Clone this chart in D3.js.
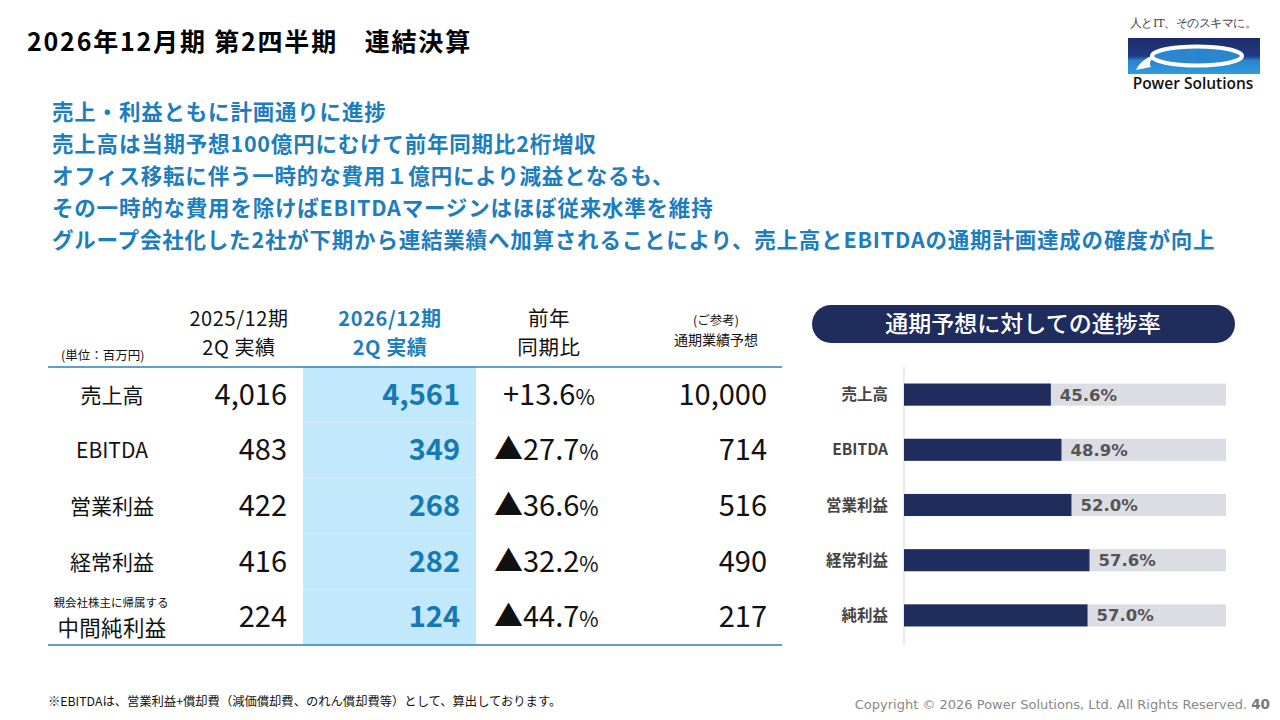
<!DOCTYPE html>
<html><head><meta charset="utf-8">
<script src="https://cdn.jsdelivr.net/npm/d3@7/dist/d3.min.js"></script>
<style>
html,body{margin:0;padding:0;background:#fff;}
svg{display:block;font-family:"Noto Sans CJK JP","Noto Sans",sans-serif;}
</style></head><body>
<svg id="c" width="1280" height="720"></svg>
<script>
// ---- data ----
const title = "2026年12月期 第2四半期　連結決算";
const bullets = [
  "売上・利益ともに計画通りに進捗",
  "売上高は当期予想100億円にむけて前年同期比2桁増収",
  "オフィス移転に伴う一時的な費用１億円により減益となるも、",
  "その一時的な費用を除けばEBITDAマージンはほぼ従来水準を維持",
  "グループ会社化した2社が下期から連結業績へ加算されることにより、売上高とEBITDAの通期計画達成の確度が向上"
];
const columnHeaders = [["2025/12期","2Q 実績"],["2026/12期","2Q 実績"],["前年","同期比"],["(ご参考)","通期業績予想"]];
const unitLabel = "(単位：百万円)";
const rowLabels = ["売上高","EBITDA","営業利益","経常利益","中間純利益"];
const rowNotes = ["","","","","親会社株主に帰属する"];
const prevValues = ["4,016","483","422","416","224"];
const currValues = ["4,561","349","268","282","124"];
const yoyValues = ["+13.6","▲27.7","▲36.6","▲32.2","▲44.7"];
const forecastValues = ["10,000","714","516","490","217"];
const chartTitle = "通期予想に対しての進捗率";
const barLabels = ["売上高","EBITDA","営業利益","経常利益","純利益"];
const progress = [45.6, 48.9, 52.0, 57.6, 57.0];
const footnote = "※EBITDAは、営業利益+償却費（減価償却費、のれん償却費等）として、算出しております。";
const copyright = "Copyright © 2026 Power Solutions, Ltd. All Rights Reserved.";
const pageNo = "40";

const svg = d3.select("#c");

// title
svg.append("text").attr("x",27).attr("y",51).attr("font-size",25).attr("font-weight",700)
  .attr("letter-spacing",1.8).attr("fill","#000").text(title);

// logo
const logo = svg.append("g");
logo.append("text").attr("x",1193).attr("y",27).attr("text-anchor","middle")
  .style("font-family","'DejaVu Serif','Liberation Serif',serif").attr("font-size",11.5).attr("fill","#444")
  .attr("letter-spacing",-0.5).text("人とIT、そのスキマに。");
const defs = svg.append("defs");
const lg = defs.append("linearGradient").attr("id","lg").attr("x1",0).attr("y1",0).attr("x2",0).attr("y2",1);
lg.append("stop").attr("offset","0%").attr("stop-color","#1d2c6a");
lg.append("stop").attr("offset","50%").attr("stop-color","#1f3b84");
lg.append("stop").attr("offset","62%").attr("stop-color","#2a83cc");
lg.append("stop").attr("offset","100%").attr("stop-color","#2f9ce0");
logo.append("rect").attr("x",1128).attr("y",38).attr("width",132).attr("height",36).attr("fill","url(#lg)");
logo.append("path").attr("d","M1136,70 C1140,61 1149,56 1160,53 C1151,58 1148,63 1151,67 Z").attr("fill","#fff");
logo.append("ellipse").attr("cx",1197).attr("cy",56).attr("rx",45).attr("ry",9.5).attr("fill","#2a86cf")
  .attr("stroke","#fff").attr("stroke-width",4);
logo.append("text").attr("x",1193).attr("y",89).attr("text-anchor","middle")
  .style("font-family","'Open Sans','Noto Sans',sans-serif").attr("font-size",15.5).attr("font-weight",600)
  .attr("fill","#111").text("Power Solutions");

// bullets
const bulletY = d3.scaleLinear().domain([0,4]).range([120,248]);
svg.selectAll("text.bullet").data(bullets).join("text").attr("class","bullet")
  .attr("x",52).attr("y",(d,i)=>bulletY(i)).attr("font-size",21.5).attr("font-weight",700)
  .attr("letter-spacing",0.8).attr("fill","#1e7dbd").text(d=>d);

// ---- table ----
const tTop = 367, tBottom = 645, tLeft = 48, tRight = 782;
const rowY = d3.scaleBand().domain(d3.range(rowLabels.length)).range([tTop,tBottom]);
const tbl = svg.append("g");
tbl.append("rect").attr("x",303).attr("y",tTop).attr("width",173).attr("height",tBottom-tTop).attr("fill","#c2e8fb");
tbl.selectAll("line.sep").data(d3.range(1,rowLabels.length)).join("line").attr("class","sep")
  .attr("x1",303).attr("x2",476).attr("y1",d=>rowY(d)).attr("y2",d=>rowY(d))
  .attr("stroke","#d8f1fd").attr("stroke-width",1);
tbl.append("line").attr("x1",tLeft).attr("x2",tRight).attr("y1",tTop).attr("y2",tTop).attr("stroke","#2a7fb8").attr("stroke-width",1.5);
tbl.append("line").attr("x1",tLeft).attr("x2",tRight).attr("y1",tBottom).attr("y2",tBottom).attr("stroke","#2a7fb8").attr("stroke-width",1.5);

// headers
const hdrStyle = [
  {x:239, c:"#111", w:400, fs:[20,20], y:[326,355], ls:0.6},
  {x:390, c:"#1e7dbd", w:700, fs:[20,20], y:[326,355], ls:0.6},
  {x:549, c:"#111", w:400, fs:[20.5,20.5], y:[326,355], ls:0.6},
  {x:716, c:"#111", w:400, fs:[12.5,14], y:[325,345], ls:0}
];
columnHeaders.forEach((lines,k)=>{
  const h = hdrStyle[k];
  lines.forEach((ln,j)=>{
    tbl.append("text").attr("x",h.x).attr("y",h.y[j]).attr("text-anchor","middle")
      .attr("font-weight",h.w).attr("fill",h.c).attr("font-size",h.fs[j]).attr("letter-spacing",h.ls).text(ln);
  });
});
tbl.append("text").attr("x",61).attr("y",360).attr("font-size",12.5).attr("fill","#111").text(unitLabel);

const rows = tbl.selectAll("g.row").data(rowLabels).join("g").attr("class","row")
  .attr("transform",(d,i)=>`translate(0,${rowY(i)+rowY.bandwidth()/2})`);
rows.each(function(d,i){
  const g = d3.select(this);
  if(rowNotes[i]){
    g.append("text").attr("x",111).attr("y",-10).attr("text-anchor","middle").attr("font-size",11.5).attr("fill","#111").text(rowNotes[i]);
    g.append("text").attr("x",112).attr("y",19).attr("text-anchor","middle").attr("font-size",21.5).attr("letter-spacing",0.3).attr("fill","#111").text(d);
  } else {
    g.append("text").attr("x",112).attr("y",8).attr("text-anchor","middle").attr("font-size",21).attr("fill","#111").text(d);
  }
});
rows.append("text").attr("x",287).attr("y",10).attr("text-anchor","end").attr("font-size",29).attr("fill","#111")
  .text((d,i)=>prevValues[i]);
rows.append("text").attr("x",460).attr("y",10).attr("text-anchor","end").attr("font-size",29).attr("font-weight",700).attr("fill","#1679b6")
  .text((d,i)=>currValues[i]);
const yoy = rows.append("text").attr("x",(d,i)=>yoyValues[i].startsWith("+")?503:494).attr("y",10).attr("font-size",29).attr("fill","#111");
yoy.append("tspan").text((d,i)=>yoyValues[i]);
yoy.append("tspan").attr("font-size",21).text("%");
rows.append("text").attr("x",767).attr("y",10).attr("text-anchor","end").attr("font-size",29).attr("fill","#111")
  .text((d,i)=>forecastValues[i]);

// ---- progress chart ----
const pill = svg.append("g");
pill.append("rect").attr("x",812).attr("y",305).attr("width",423).attr("height",38).attr("rx",19).attr("fill","#1f2d5e");
pill.append("text").attr("x",1023).attr("y",332).attr("text-anchor","middle").attr("font-size",23).attr("font-weight",500)
  .attr("fill","#fff").text(chartTitle);

const x = d3.scaleLinear().domain([0,100]).range([904,1226]);
const y = d3.scaleBand().domain(barLabels).range([367,643]).paddingInner(0.6).paddingOuter(0.3);
const ch = svg.append("g");
ch.append("line").attr("x1",x(0)).attr("x2",x(0)).attr("y1",367).attr("y2",645).attr("stroke","#e4e4e8").attr("stroke-width",1.5);
ch.selectAll("rect.bg").data(barLabels).join("rect").attr("class","bg")
  .attr("x",x(0)).attr("y",d=>y(d)).attr("width",x(100)-x(0)).attr("height",y.bandwidth()).attr("fill","#dcdce5");
ch.selectAll("rect.fg").data(progress).join("rect").attr("class","fg")
  .attr("x",x(0)).attr("y",(d,i)=>y(barLabels[i])).attr("width",d=>x(d)-x(0)).attr("height",y.bandwidth()).attr("fill","#1f2d5e");
ch.selectAll("text.val").data(progress).join("text").attr("class","val")
  .attr("x",d=>x(d)+9).attr("y",(d,i)=>y(barLabels[i])+y.bandwidth()/2+6)
  .style("font-family","'DejaVu Sans',Verdana,sans-serif").attr("font-size",16.5).attr("font-weight",700).attr("fill","#555")
  .text(d=>d.toFixed(1)+"%");
ch.selectAll("text.lab").data(barLabels).join("text").attr("class","lab")
  .attr("x",888).attr("y",d=>y(d)+y.bandwidth()/2+5.5)
  .attr("text-anchor","end").attr("font-size",15.5).attr("font-weight",700).attr("fill","#444").text(d=>d);

// footer
svg.append("text").attr("x",48).attr("y",706).attr("font-size",12.3).attr("fill","#111").text(footnote);
const cp = svg.append("text").attr("x",1270).attr("y",709).attr("text-anchor","end")
  .style("font-family","'DejaVu Sans',Verdana,sans-serif").attr("font-size",13).attr("fill","#888");
cp.append("tspan").text(copyright+" ");
cp.append("tspan").attr("font-weight",700).attr("font-size",13.5).attr("fill","#777").text(pageNo);
</script>
</body></html>
